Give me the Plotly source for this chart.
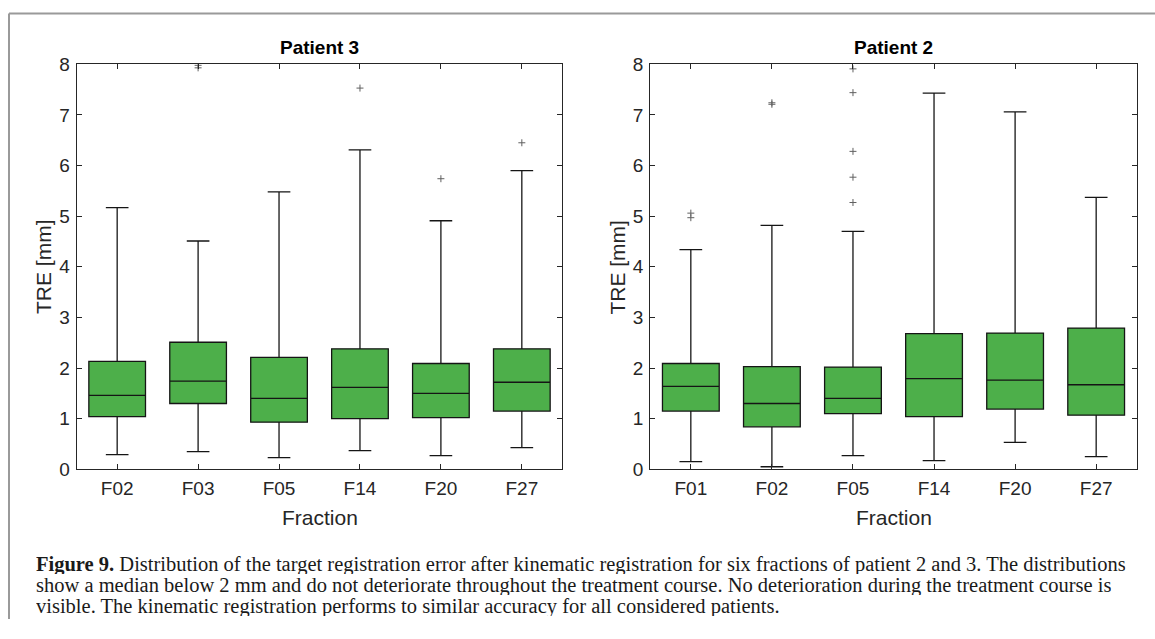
import plotly.graph_objects as go

# Figure drawn at the page origin; kept a little shorter than the window
# so the page never overflows (an overflowing page gets squeezed).
PAGE_W, PAGE_H = 1155, 639
FW, FH = 1155, 619

# ---------------- data ----------------
p3_cats = ["F02", "F03", "F05", "F14", "F20", "F27"]
p3_q1 = [1.04, 1.30, 0.93, 1.00, 1.02, 1.15]
p3_med = [1.46, 1.74, 1.40, 1.62, 1.50, 1.72]
p3_q3 = [2.13, 2.51, 2.21, 2.38, 2.09, 2.38]
p3_low = [0.29, 0.35, 0.23, 0.37, 0.27, 0.43]
p3_high = [5.17, 4.51, 5.48, 6.31, 4.91, 5.90]
p3_out_x = ["F03", "F03", "F14", "F20", "F27"]
p3_out_y = [7.93, 7.98, 7.53, 5.74, 6.45]

p2_cats = ["F01", "F02", "F05", "F14", "F20", "F27"]
p2_q1 = [1.15, 0.84, 1.10, 1.04, 1.19, 1.07]
p2_med = [1.64, 1.30, 1.40, 1.79, 1.76, 1.67]
p2_q3 = [2.09, 2.03, 2.02, 2.68, 2.69, 2.79]
p2_low = [0.15, 0.05, 0.27, 0.17, 0.53, 0.25]
p2_high = [4.34, 4.82, 4.70, 7.43, 7.06, 5.37]
p2_out_x = ["F01", "F01", "F02", "F02", "F05", "F05", "F05", "F05", "F05"]
p2_out_y = [4.97, 5.06, 7.21, 7.24, 5.27, 5.77, 6.28, 7.44, 7.91]

y_ticks = [0, 1, 2, 3, 4, 5, 6, 7, 8]

caption_lines = [
    "<b>Figure 9.</b> Distribution of the target registration error after kinematic registration for six fractions of patient 2 and 3. The distributions",
    "show a median below 2 mm and do not deteriorate throughout the treatment course. No deterioration during the treatment course is",
    "visible. The kinematic registration performs to similar accuracy for all considered patients.",
]

# ---------------- helpers (page pixel -> paper fraction) ----------------
def px(x):
    return x / FW


def py(y):
    return 1 - y / FH


BOX_FILL = "#4DAF4A"
AX_COL = "#262626"
SANS = "Liberation Sans, Arial, sans-serif"
TICK_FONT = dict(family=SANS, size=19, color=AX_COL)

fig = go.Figure()

panels = [
    ("x", "y", p3_cats, p3_q1, p3_med, p3_q3, p3_low, p3_high, p3_out_x, p3_out_y),
    ("x2", "y2", p2_cats, p2_q1, p2_med, p2_q3, p2_low, p2_high, p2_out_x, p2_out_y),
]

for xa, ya, cats, q1, med, q3, lo, hi, ox, oy in panels:
    fig.add_trace(go.Box(
        x=cats, q1=q1, median=med, q3=q3, lowerfence=lo, upperfence=hi,
        width=0.7, whiskerwidth=0.4, fillcolor=BOX_FILL,
        line=dict(color="#151515", width=1.3),
        boxpoints=False, xaxis=xa, yaxis=ya, showlegend=False,
        hoverinfo="skip",
    ))
    fig.add_trace(go.Scatter(
        x=ox, y=oy, mode="markers", xaxis=xa, yaxis=ya, showlegend=False,
        marker=dict(symbol="cross-thin", size=5, line=dict(color="#606060", width=1)),
        hoverinfo="skip",
    ))

PLOT_TOP, PLOT_BOT = 64.3, 469.3
y_dom = [py(PLOT_BOT), py(PLOT_TOP)]
L_LEFT, L_RIGHT = 76.7, 562.3
R_LEFT, R_RIGHT = 650.3, 1136.7


def xaxis_cfg(dom, cats, anchor):
    return dict(
        domain=dom, type="category", categoryorder="array", categoryarray=cats,
        range=[-0.5, 5.5], showline=True, linecolor=AX_COL, linewidth=1.3,
        mirror="ticks", ticks="inside", ticklen=5, tickwidth=1, tickcolor=AX_COL,
        tickfont=TICK_FONT, showgrid=False, zeroline=False, ticklabelstandoff=2,
        fixedrange=True, anchor=anchor,
    )


def yaxis_cfg(anchor):
    return dict(
        domain=y_dom, range=[0, 8], tickvals=y_ticks, showline=True,
        linecolor=AX_COL, linewidth=1.3, mirror="ticks", ticks="inside",
        ticklen=5, tickwidth=1, tickcolor=AX_COL, tickfont=TICK_FONT,
        showgrid=False, zeroline=False, anchor=anchor, ticklabelstandoff=2,
        fixedrange=True,
    )


fig.update_layout(
    width=FW, height=FH,
    margin=dict(l=0, r=0, t=0, b=0, autoexpand=False),
    paper_bgcolor="white", plot_bgcolor="white",
    xaxis=xaxis_cfg([px(L_LEFT), px(L_RIGHT)], p3_cats, "y"),
    yaxis=yaxis_cfg("x"),
    xaxis2=xaxis_cfg([px(R_LEFT), px(R_RIGHT)], p2_cats, "y2"),
    yaxis2=yaxis_cfg("x2"),
)

annotations = []
title_font = dict(family=SANS, size=19, color="black")
label_font = dict(family=SANS, size=21, color=AX_COL)
centers = [(L_LEFT + L_RIGHT) / 2, (R_LEFT + R_RIGHT) / 2]
for cx, txt in zip(centers, ["Patient 3", "Patient 2"]):
    annotations.append(dict(x=px(cx), y=py(48), xref="paper", yref="paper",
                            text=f"<b>{txt}</b>", showarrow=False, font=title_font,
                            xanchor="center", yanchor="middle"))
for cx in centers:
    annotations.append(dict(x=px(cx), y=py(517), xref="paper", yref="paper",
                            text="Fraction", showarrow=False, font=label_font,
                            xanchor="center", yanchor="middle"))
for cx in [L_LEFT - 32.5, R_LEFT - 32.5]:
    annotations.append(dict(x=px(cx), y=py((PLOT_TOP + PLOT_BOT) / 2), xref="paper", yref="paper",
                            text="TRE [mm]", showarrow=False, font=label_font,
                            textangle=-90, xanchor="center", yanchor="middle"))

cap_font = dict(family="Liberation Serif, Times New Roman, serif", size=20.5, color="#1a1a1a")
for i, line in enumerate(caption_lines):
    annotations.append(dict(x=px(35), y=py(564 + 21 * i), xref="paper", yref="paper",
                            text=line, showarrow=False, font=cap_font, height=20,
                            borderpad=0, xanchor="left", yanchor="middle", align="left",
                            valign="middle"))

fig.update_layout(annotations=annotations)

# gray frame (left and top edges)
fig.add_shape(type="line", xref="paper", yref="paper",
              x0=px(9), y0=0, x1=px(9), y1=py(13.5),
              line=dict(color="#9a9a9a", width=2))
fig.add_shape(type="line", xref="paper", yref="paper",
              x0=px(9), y0=py(13.5), x1=1, y1=py(13.5),
              line=dict(color="#9a9a9a", width=2))

fig.write_html("out.html")
